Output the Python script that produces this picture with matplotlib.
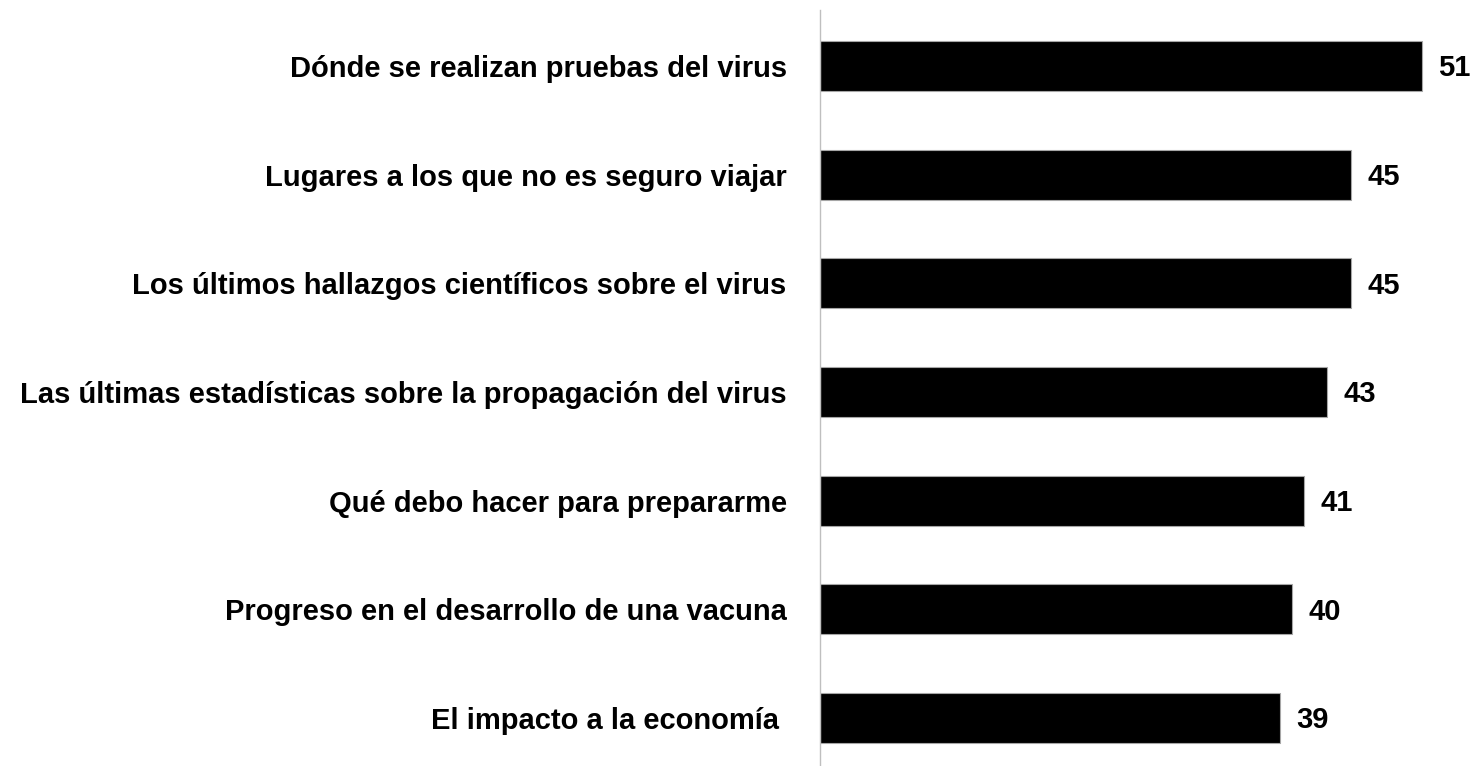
import matplotlib
matplotlib.use("Agg")
from matplotlib import pyplot as plt

plt.rcParams['font.family'] = ['Liberation Sans', 'DejaVu Sans']

# data
categories = ["Dónde se realizan pruebas del virus",
			"Lugares a los que no es seguro viajar",
			"Los últimos hallazgos científicos sobre el virus",
			"Las últimas estadísticas sobre la propagación del virus",
			"Qué debo hacer para prepararme",
			"Progreso en el desarrollo de una vacuna",
			"El impacto a la economía "]
values = [51, 45, 45, 43, 41, 40, 39]

fig = plt.figure(figsize=(14.76, 7.66), dpi=100)
ax = fig.add_axes([820/1476, 0, 656/1476, 756/766])

pos = list(range(len(values)))
ax.barh(pos, values, height=0.46, color='black', edgecolor='#a6a6a6', linewidth=0.8)
for p, v in zip(pos, values):
	ax.text(v + 1.4, p + 0.02, str(v), va='center', ha='left', fontsize=21, fontweight='bold')

ax.set_xlim(0, 55.6)
ax.set_ylim(6.44, -0.515)
ax.set_yticks(pos)
ax.set_yticklabels(categories, fontsize=21, fontweight='bold')
ax.tick_params(axis='y', length=0, pad=24)
ax.set_xticks([])
for s in ['top', 'right', 'bottom']:
	ax.spines[s].set_visible(False)
ax.spines['left'].set_color('#bfbfbf')
ax.spines['left'].set_linewidth(1)

plt.savefig("out.png", dpi=100)
